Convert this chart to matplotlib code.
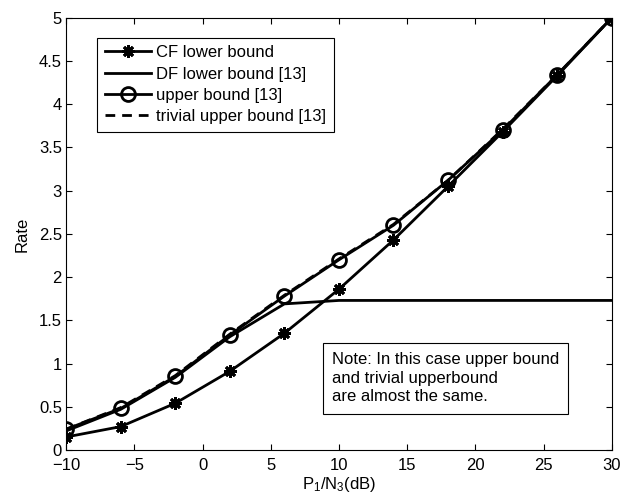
"""Achievable rates vs P1/N3: CF lower bound, DF lower bound and upper bounds."""

import matplotlib

matplotlib.use("Agg")
import matplotlib.pyplot as plt
from matplotlib.ticker import FormatStrFormatter, MultipleLocator

plt.rcParams["font.family"] = ["Liberation Sans", "DejaVu Sans"]
plt.rcParams["mathtext.fontset"] = "custom"
plt.rcParams["mathtext.rm"] = "Liberation Sans"
plt.rcParams["mathtext.it"] = "Liberation Sans:italic"

snr_db = [-10, -6, -2, 2, 6, 10, 14, 18, 22, 26, 30]
cf_lower = [0.15, 0.27, 0.54, 0.91, 1.35, 1.86, 2.43, 3.05, 3.68, 4.33, 5.0]
df_lower = [0.22, 0.47, 0.84, 1.31, 1.69, 1.73, 1.73, 1.73, 1.73, 1.73, 1.73]
upper = [0.24, 0.48, 0.85, 1.33, 1.78, 2.20, 2.60, 3.12, 3.70, 4.34, 5.0]
trivial_upper = [0.24, 0.49, 0.86, 1.34, 1.79, 2.21, 2.61, 3.12, 3.71, 4.34, 5.0]

LW = 2.0
FS = 12

fig = plt.figure(figsize=(6.30, 4.95), dpi=100)
ax = fig.add_axes([0.105, 0.091, 0.866, 0.873])

ax.plot(snr_db, cf_lower, color="black", lw=LW, marker=(8, 2, 0), markersize=9,
        markeredgewidth=2.0, label="CF lower bound")
ax.plot(snr_db, df_lower, color="black", lw=LW, label="DF lower bound [13]")
ax.plot(snr_db, upper, color="black", lw=LW, marker="o", markersize=10,
        markerfacecolor="none", markeredgewidth=2.0, label="upper bound [13]")
ax.plot(snr_db, trivial_upper, color="black", lw=LW, ls=(0, (3.5, 2.5)),
        label="trivial upper bound [13]")

ax.set_xlim(-10, 30)
ax.set_ylim(0, 5)
ax.xaxis.set_major_locator(MultipleLocator(5))
ax.yaxis.set_major_locator(MultipleLocator(0.5))
ax.yaxis.set_major_formatter(FormatStrFormatter("%g"))
ax.tick_params(direction="in", top=True, right=True, length=4, width=0.8,
               labelsize=FS)
ax.tick_params(axis="x", pad=6)
ax.tick_params(axis="y", pad=3)
for sp in ax.spines.values():
    sp.set_linewidth(0.8)

ax.set_xlabel(r"P$_1$/N$_3$(dB)", fontsize=FS, labelpad=1)
ax.set_ylabel("Rate", fontsize=FS, labelpad=7)

leg = ax.legend(loc="upper left", bbox_to_anchor=(0.057, 0.954), fontsize=FS,
                handlelength=2.8, handletextpad=0.3, labelspacing=0.38,
                borderaxespad=0, borderpad=0.45, fancybox=False, framealpha=1)
leg.get_frame().set_edgecolor("black")
leg.get_frame().set_linewidth(0.8)

ax.text(0.487, 0.226,
        "Note: In this case upper bound\nand trivial upperbound\nare almost the same.",
        transform=ax.transAxes, fontsize=FS, ha="left", va="top",
        linespacing=1.3,
        bbox=dict(boxstyle="square,pad=0.55", facecolor="white", edgecolor="black",
                  linewidth=0.8))

fig.savefig("out.png")
